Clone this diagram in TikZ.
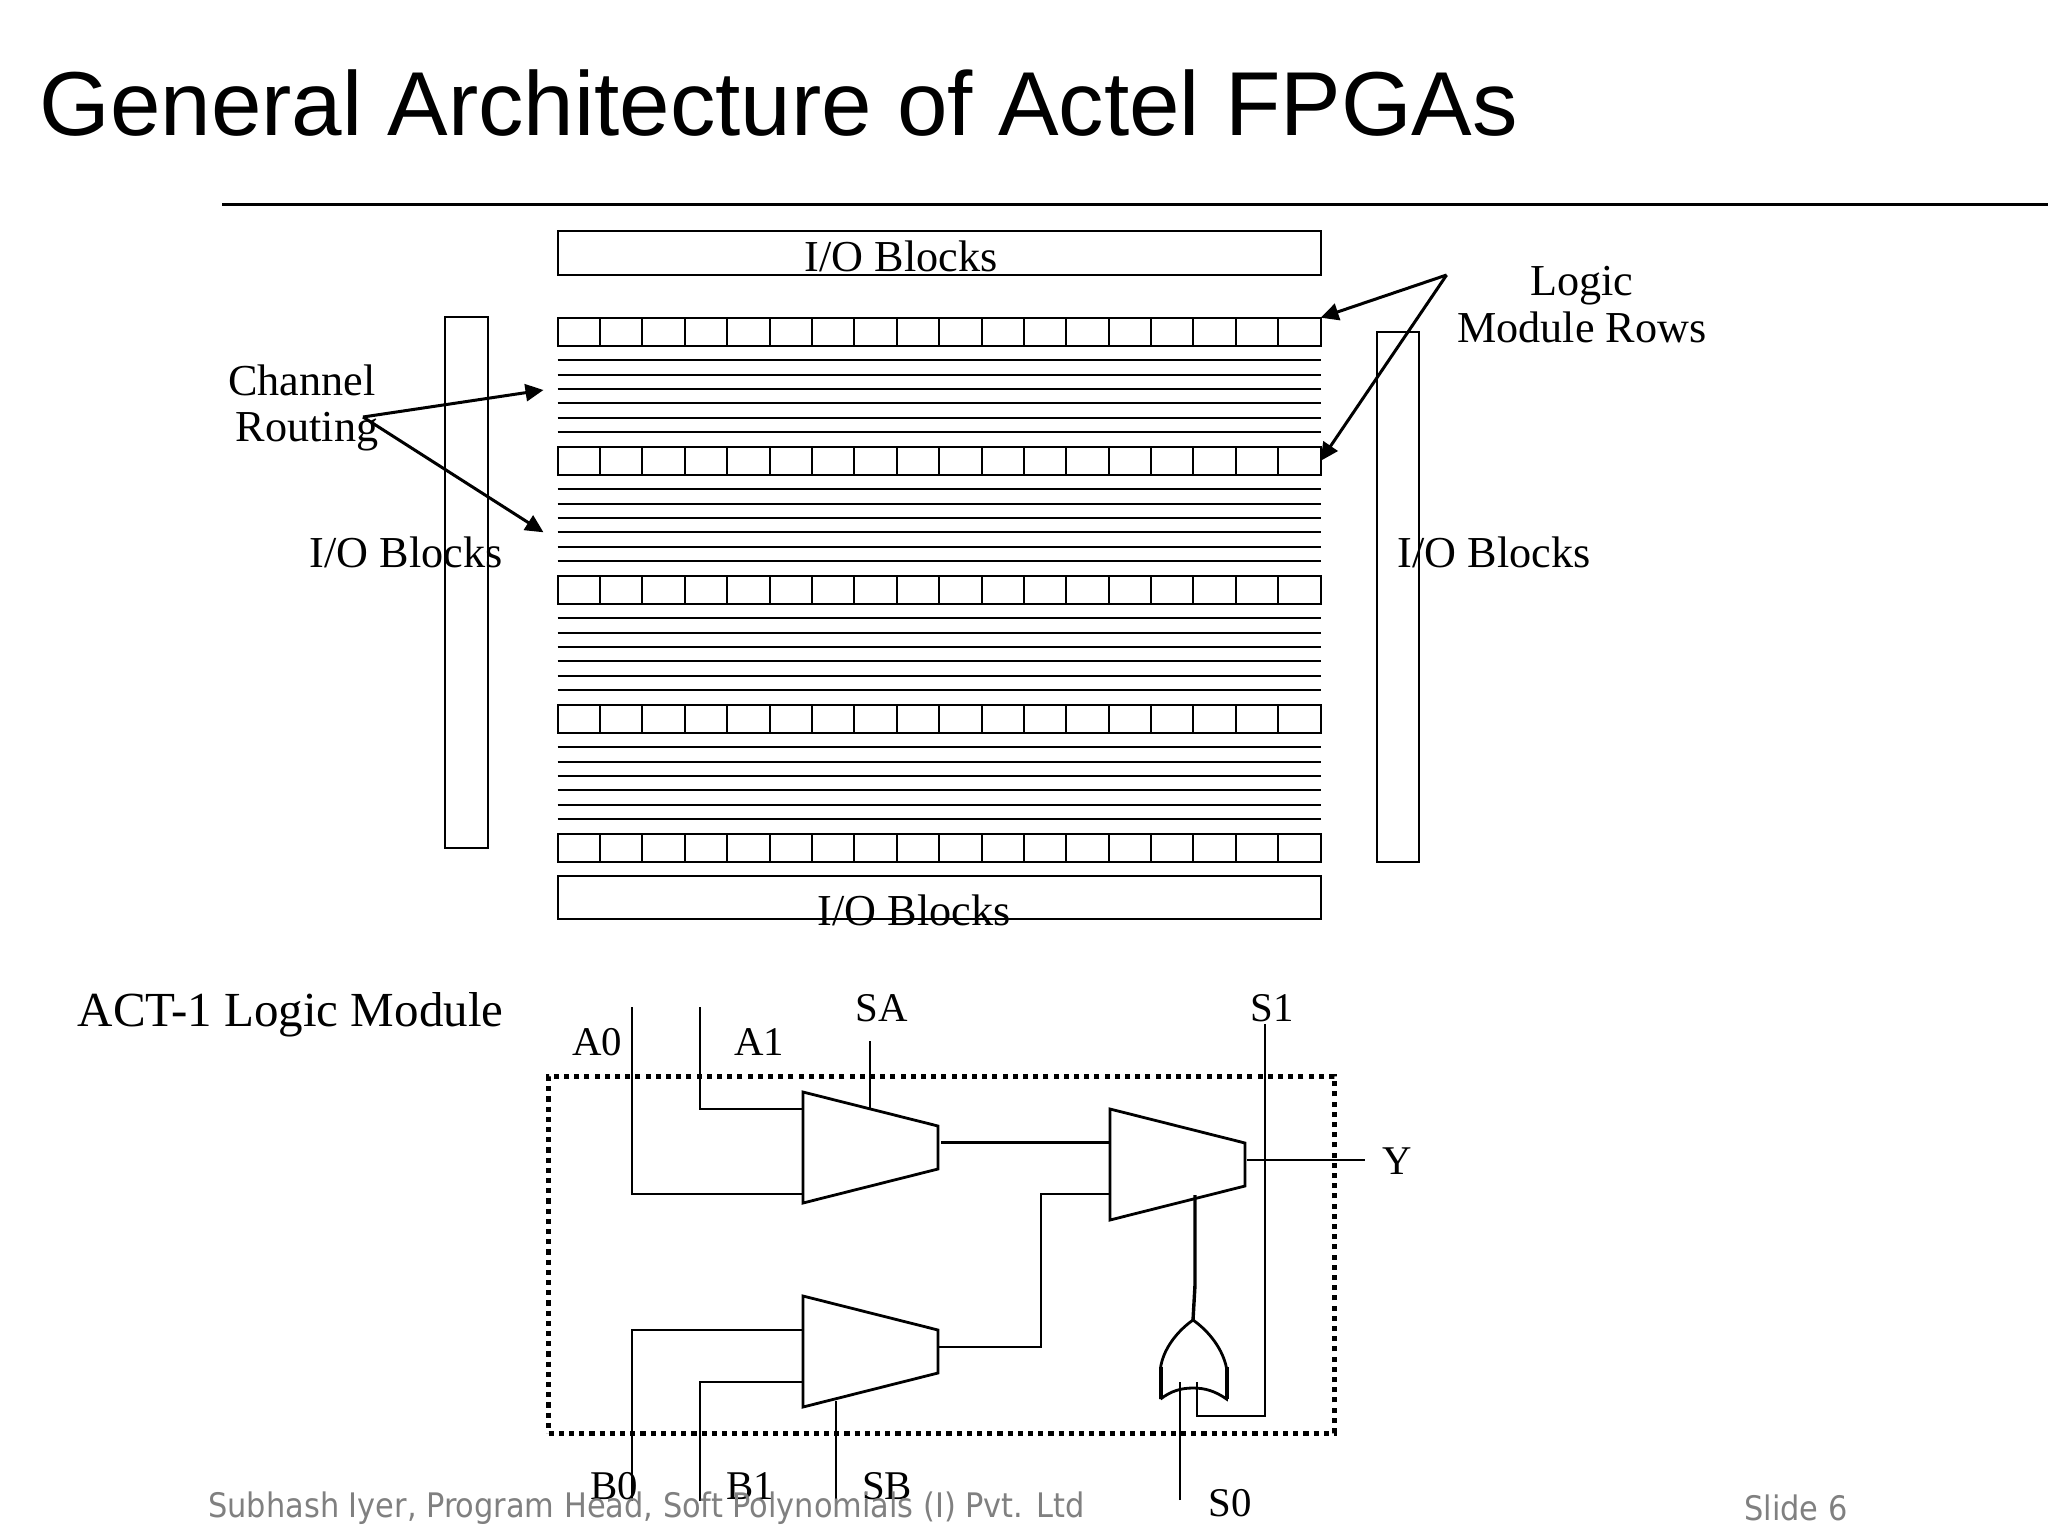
\documentclass[tikz,border=0pt]{standalone}
\usepackage{fontspec}
\setmainfont{Liberation Serif}
\newfontfamily\titlefont{Liberation Sans}
\newfontfamily\footfont{DejaVu Sans Condensed}
\usetikzlibrary{arrows.meta,positioning,calc}
\tikzset{
  box/.style={draw,line width=1pt,inner sep=0,outer sep=0},
  cell/.style={box,minimum width=21.19pt,minimum height=14.2pt},
  label/.style={inner sep=0,font=\fontsize{22.1}{24}\selectfont},
  pinlabel/.style={inner sep=0,font=\fontsize{20.4}{24}\selectfont},
  foot/.style={inner sep=0,text=black!50,font=\footfont\fontsize{16.9}{20}\selectfont},
  wire/.style={line width=1pt},
  thin wire/.style={line width=.8pt},
  pointer/.style={line width=1.5pt,-{Triangle[length=9pt,width=8.5pt]}},
  muxbody/.style={draw,line width=1.4pt,line join=miter}
}
% a mux: corners and ports from its top left corner
\newcommand{\muxat}[3]{%
  \coordinate (#1tl) at (#2,#3);
  \coordinate (#1tr) at (#2+135,#3+34);
  \coordinate (#1br) at (#2+135,#3+77);
  \coordinate (#1bl) at (#2,#3+111);
  \draw[muxbody] (#1tl) -- (#1tr) -- (#1br) -- (#1bl) -- cycle;
}
\begin{document}
\begin{tikzpicture}[x=.5pt,y=-.5pt]
\useasboundingbox (0,0) rectangle (2048,1536);
% title
 \node[inner sep=0,anchor=west,font=\titlefont\fontsize{45.4}{50}\selectfont] (title) at (39,103) {General Architecture of Actel FPGAs};
 \coordinate (ruleL) at (222,204.5);
 \coordinate (ruleR) at (2048,204.5);
 \draw[line width=1.1pt] (ruleL) -- (ruleR);
% io blocks
 \node[box,minimum width=381.4pt,minimum height=22pt,anchor=north west] (iotop) at (557.7,231) {};
 \node[box,minimum width=381.4pt,minimum height=21.5pt,anchor=north west] (iobot) at (557.7,876.4) {};
 \node[box,minimum width=21.7pt,minimum height=265.3pt,anchor=north west] (ioleft) at (444.5,317) {};
 \node[box,minimum width=21pt,minimum height=265.2pt,anchor=north west] (ioright) at (1377,331.7) {};
% module rows and channels
 \foreach \r in {0,...,4} {
  \foreach \c in {0,...,17} {
   \node[cell,anchor=north west] (m\r-\c) at ({557.7+42.38*\c},{317.7+129*\r}) {};
  }
 }
 \foreach \r in {0,...,3} {
  \foreach \t in {0,...,5} {
   \coordinate (chL\r-\t) at (557.7,{360.3+129*\r+14.33*\t});
   \coordinate (chR\r-\t) at (1320.5,{360.3+129*\r+14.33*\t});
   \draw[wire] (chL\r-\t) -- (chR\r-\t);
  }
 }
% labels
 \node[label] (iotxt) at (901,256) {I/O Blocks};
 \node[label] (iobtxt) at (914,910) {I/O Blocks};
 \node[label] (iol) at (406,552) {I/O Blocks};
 \node[label] (ior) at (1494,552) {I/O Blocks};
 \node[label] (chan) at (302,380) {Channel};
 \node[label] (rout) at (307,432) {Routing};
 \node[label] (logic) at (1582,286) {Logic};
 \node[label] (rows) at (1582,327) {Module Rows};
% pointers
 \coordinate (chfrom) at (363,417);
 \coordinate (chto1) at (543.5,390);
 \coordinate (chto2) at (543.5,532.3);
 \coordinate (lgfrom) at (1446.6,275);
 \draw[pointer] (chfrom) -- (chto1);
 \draw[pointer] (chfrom) -- (chto2);
 \draw[pointer] (lgfrom) -- (m0-17.north east);
 \draw[pointer] (lgfrom) -- (m1-17.east);
% logic module
 \node[label,font=\fontsize{24.5}{28}\selectfont] (act) at (290.6,1015) {ACT-1 Logic Module};
 \node[draw,dash pattern=on 2.55pt off 2.55pt,line width=2.5pt,inner sep=0,outer sep=0,minimum width=392.7pt,minimum height=178.5pt,anchor=north west] (lm) at (548.6,1076) {};
 \muxat{a}{803}{1092}
 \muxat{b}{1110}{1109}
 \muxat{c}{803}{1296}
% inputs
 \coordinate (A0) at (631.5,1007);
 \coordinate (A1) at (700,1007);
 \coordinate (B0) at (631.5,1501);
 \coordinate (B1) at (700,1501);
 \coordinate (SAc) at (870,1041);
 \coordinate (SAe) at (870,1108.5);
 \coordinate (SBc) at (836,1501);
 \coordinate (SBe) at (836,1401);
 \draw[wire] (A0) |- (803,1194);
 \draw[wire] (A1) |- (803,1109);
 \draw[wire] (B0) |- (803,1330);
 \draw[wire] (B1) |- (803,1382);
 \draw[thin wire] (SAc) -- (SAe);
 \draw[thin wire] (SBc) -- (SBe);
% outputs
 \coordinate (aout) at (941,1142.6);
 \coordinate (bin1) at (1110,1142.6);
 \coordinate (cout) at (938,1347);
 \coordinate (bin2) at (1110,1194);
 \coordinate (bout) at (1247,1160);
 \coordinate (Yend) at (1365,1160);
 \draw[line width=1.5pt] (aout) -- (bin1);
 \draw[wire] (cout) -- (1041,1347) -- (1041,1194) -- (bin2);
 \draw[wire] (bout) -- (Yend);
% or gate
 \coordinate (orl) at (1160.5,1399);
 \coordinate (orr) at (1226.5,1399);
 \coordinate (ortop) at (1193,1320);
 \draw[line width=1.4pt] (orl) -- (1160.5,1368) .. controls (1163,1350) and (1176,1332) .. (ortop) .. controls (1210,1332) and (1223,1350) .. (1226.5,1368) -- (orr) .. controls (1215,1391) and (1205,1388) .. (1193,1388) .. controls (1181,1388) and (1171,1391) .. (orl);
 \draw[line width=2pt] (orl) -- (1160.5,1367);
 \draw[line width=2pt] (orr) -- (1226.5,1367);
 \coordinate (S1a) at (1265,1024);
 \coordinate (S1b) at (1197,1382);
 \coordinate (S0a) at (1180,1500);
 \coordinate (S0b) at (1180,1382);
 \coordinate (orsel) at (1195,1195);
 \draw[thin wire] (S1a) -- (1265,1416) -- (1197,1416) -- (S1b);
 \draw[thin wire] (S0a) -- (S0b);
 \draw[line width=1.7pt] (ortop) -- (1195,1285) -- (orsel);
% module labels
 \node[pinlabel] (SAt) at (882,1008) {SA};
 \node[pinlabel] (S1t) at (1272,1008) {S1};
 \node[pinlabel] (A0t) at (597,1042) {A0};
 \node[pinlabel] (A1t) at (759,1042) {A1};
 \node[pinlabel] (Yt) at (1397,1161) {Y};
 \node[pinlabel] (B0t) at (614,1486) {B0};
 \node[pinlabel] (B1t) at (750,1486) {B1};
 \node[pinlabel] (SBt) at (887,1486) {SB};
 \node[pinlabel] (S0t) at (1230,1503) {S0};
% footer
 \node[foot,anchor=west] (ft) at (208,1508) {Subhash Iyer, Program Head, Soft Polynomials (I) Pvt. Ltd};
 \node[foot,anchor=west] (sl) at (1744,1508) {Slide 6};
\end{tikzpicture}
\end{document}
